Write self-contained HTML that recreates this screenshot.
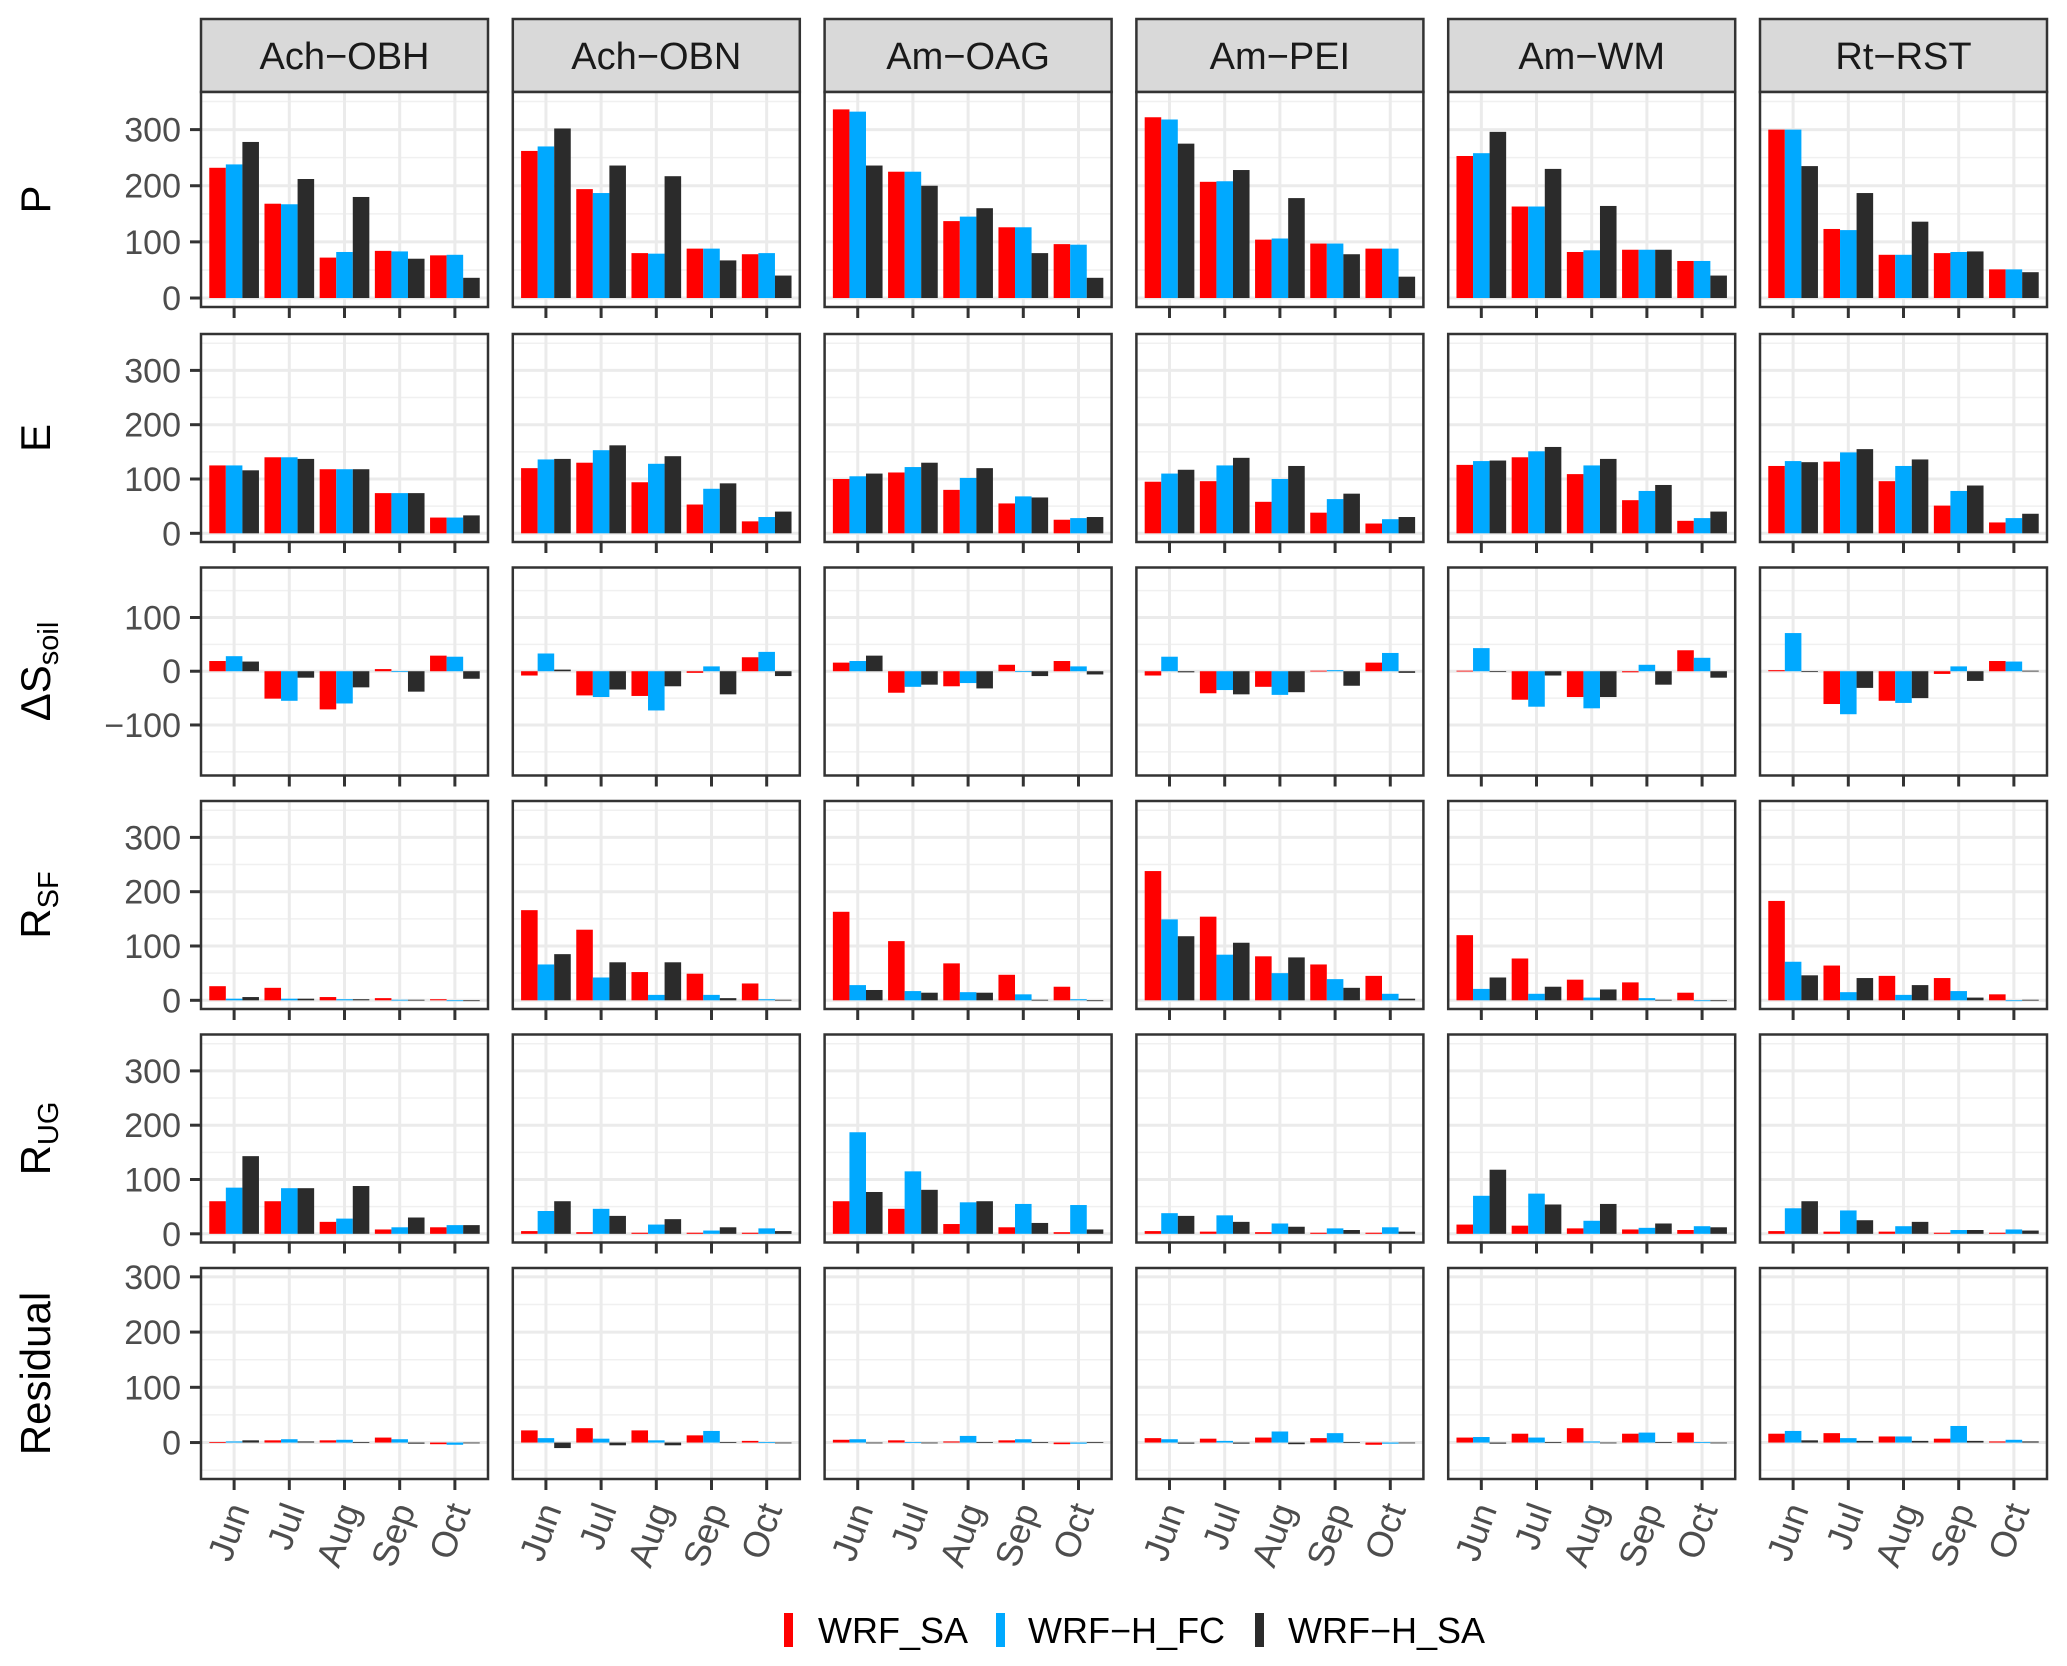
<!DOCTYPE html>
<html><head><meta charset="utf-8"><title>Water balance chart</title>
<style>
html,body{margin:0;padding:0;background:#fff;}
svg{display:block;font-family:"Liberation Sans",Arial,sans-serif;}
</style></head>
<body>
<svg id="chart" width="2067" height="1666" viewBox="0 0 2067 1666" xmlns="http://www.w3.org/2000/svg"></svg>
<script>
const sites = ["Ach\u2212OBH","Ach\u2212OBN","Am\u2212OAG","Am\u2212PEI","Am\u2212WM","Rt\u2212RST"];
const months = ["Jun","Jul","Aug","Sep","Oct"];
const seriesNames = ["WRF_SA","WRF\u2212H_FC","WRF\u2212H_SA"];
const seriesColors = ["#ff0000","#00a9ff","#2b2b2b"];
const varNames = ["P","E","dS","RSF","RUG","Residual"];
const P = [
 [[232,238,278],[168,167,212],[72,82,180],[84,83,70],[76,77,36]],
 [[262,270,302],[194,187,236],[80,79,217],[88,88,67],[78,80,40]],
 [[336,332,236],[225,225,200],[137,145,160],[126,126,80],[96,95,36]],
 [[322,318,275],[207,208,228],[104,106,178],[97,97,78],[88,88,38]],
 [[253,258,296],[163,163,230],[82,85,164],[86,86,86],[66,66,40]],
 [[300,300,235],[123,121,187],[77,77,136],[80,82,83],[51,51,46]]
];
const E = [
 [[125,125,116],[140,140,137],[118,118,118],[74,74,74],[29,29,33]],
 [[120,136,137],[130,153,162],[94,128,142],[53,82,92],[22,30,40]],
 [[100,105,110],[112,122,130],[80,102,120],[55,68,66],[25,28,30]],
 [[95,110,117],[96,125,139],[58,100,124],[38,63,73],[18,26,30]],
 [[126,133,134],[140,151,159],[109,125,137],[61,78,89],[23,28,40]],
 [[124,133,131],[132,149,155],[96,124,136],[51,78,88],[20,28,36]]
];
const dS = [
 [[19,28,18],[-51,-55,-12],[-71,-60,-30],[4,0,-38],[29,27,-14]],
 [[-8,33,3],[-45,-48,-34],[-46,-73,-28],[-3,9,-43],[26,36,-9]],
 [[16,19,29],[-40,-29,-25],[-28,-22,-32],[12,-1,-9],[19,9,-6]],
 [[-8,27,-2],[-41,-35,-43],[-29,-44,-39],[1,2,-27],[16,34,-3]],
 [[1,43,0],[-53,-66,-8],[-48,-69,-48],[-2,12,-25],[39,25,-12]],
 [[2,71,-1],[-61,-80,-31],[-55,-59,-50],[-5,9,-18],[19,18,1]]
];
const RSF = [
 [[26,3,6],[23,3,3],[6,2,2],[4,1,1],[2,0,0]],
 [[166,66,85],[130,42,70],[52,10,70],[49,10,4],[31,2,1]],
 [[163,28,19],[109,17,14],[68,15,14],[47,11,1],[25,2,0]],
 [[238,149,118],[154,84,106],[81,50,79],[66,39,23],[45,12,3]],
 [[120,21,42],[77,12,25],[38,5,20],[33,4,1],[14,0,0]],
 [[183,71,46],[64,15,41],[45,10,28],[41,17,5],[11,0,1]]
];
const RUG = [
 [[60,85,143],[60,84,84],[22,28,88],[8,12,30],[12,16,16]],
 [[5,42,60],[3,46,33],[2,17,27],[2,6,12],[2,10,5]],
 [[60,187,77],[46,115,81],[18,58,60],[12,55,20],[3,53,8]],
 [[5,38,33],[4,34,22],[3,19,13],[2,10,7],[2,12,4]],
 [[17,70,118],[15,74,54],[10,24,55],[8,11,19],[7,14,12]],
 [[5,47,60],[4,43,25],[4,14,22],[2,7,7],[2,8,6]]
];
const Residual = [
 [[1,2,4],[4,6,2],[4,5,1],[9,6,-2],[-3,-4,-1]],
 [[22,8,-10],[26,7,-5],[22,4,-5],[13,21,1],[3,1,0]],
 [[5,6,0],[4,1,0],[2,12,1],[4,6,1],[-3,-2,1]],
 [[8,6,-2],[7,3,-2],[9,20,-3],[8,17,1],[-4,-2,0]],
 [[9,10,-2],[16,9,1],[26,2,-1],[16,18,1],[18,1,0]],
 [[16,21,4],[17,8,3],[11,11,3],[7,30,3],[2,5,2]]
];
const allData = [P,E,dS,RSF,RUG,Residual];
const majorTicks = [[0,100,200,300],[0,100,200,300],[-100,0,100],[0,100,200,300],[0,100,200,300],[0,100,200,300]];
const minorTicks = [[50,150,250,350],[50,150,250,350],[-150,-50,50,150],[50,150,250,350],[50,150,250,350],[-50,50,150,250]];
const yLimits = [[-16,367],[-16,367],[-194,193],[-16,367],[-16,367],[-66,316]];

const NS="http://www.w3.org/2000/svg";
const svg=document.getElementById('chart');
function mk(tag,attrs,parent){const e=document.createElementNS(NS,tag);for(const k in attrs)e.setAttribute(k,attrs[k]);(parent||svg).appendChild(e);return e;}

const colLeft=c=>201+311.8*c, panelW=287;
const rowTop=[92,334,567.5,801,1034.5,1268];
const rowH=[215,208,208,208,208,211];
const step=panelW/5.2;
function xScale(c,i){return colLeft(c)+step*(0.6+i);}
function yScale(r,v){const [lo,hi]=yLimits[r];return rowTop[r]+rowH[r]*(hi-v)/(hi-lo);}

sites.forEach((s,c)=>{
  const g=mk('g',{});
  
  
  mk('rect',{x:colLeft(c),y:19,width:panelW,height:73,fill:'#d9d9d9',stroke:'#333',"stroke-width":2.5},g);
  const t=mk('text',{x:colLeft(c)+panelW/2,y:69,"text-anchor":"middle","font-size":38,fill:'#1a1a1a'},g);
  t.textContent=s;
});

for(let r=0;r<6;r++){
  const cy=rowTop[r]+rowH[r]/2;
  const t=mk('text',{transform:`translate(50,${cy}) rotate(-90)`,"text-anchor":"middle","font-size":42,fill:'#000'});
  
  
  if(r===2){t.innerHTML='\u0394S<tspan font-size="29" dy="8">soil</tspan>';}
  else if(r===3){t.innerHTML='R<tspan font-size="29" dy="8">SF</tspan>';}
  else if(r===4){t.innerHTML='R<tspan font-size="29" dy="8">UG</tspan>';}
  else t.textContent=varNames[r];
}

for(let r=0;r<6;r++){
  for(let c=0;c<6;c++){
    const g=mk('g',{});
    
    
    const x0=colLeft(c), y0=rowTop[r], h=rowH[r];
    mk('rect',{x:x0,y:y0,width:panelW,height:h,fill:'#fff'},g);
    minorTicks[r].forEach(v=>{const y=yScale(r,v);mk('line',{x1:x0,x2:x0+panelW,y1:y,y2:y,stroke:'#f0f0f0',"stroke-width":1.5},g);});
    majorTicks[r].forEach(v=>{const y=yScale(r,v);mk('line',{x1:x0,x2:x0+panelW,y1:y,y2:y,stroke:'#ebebeb',"stroke-width":3},g);});
    months.forEach((m,i)=>{const x=xScale(c,i);mk('line',{x1:x,x2:x,y1:y0,y2:y0+h,stroke:'#ebebeb',"stroke-width":3},g);});
    const d=allData[r][c];
    const bw=step*0.9/3;
    months.forEach((m,i)=>{
      for(let s=0;s<3;s++){
        const v=d[i][s];
        const xb=xScale(c,i)-step*0.45+bw*s;
        const ya=yScale(r,Math.max(v,0)), yb=yScale(r,Math.min(v,0));
        const b=mk('rect',{x:xb,y:ya,width:bw,height:Math.max(yb-ya,0.8),fill:seriesColors[s]},g);
        
        
      }
    });
    mk('rect',{x:x0,y:y0,width:panelW,height:h,fill:'none',stroke:'#333',"stroke-width":2.5},g);
    months.forEach((m,i)=>{const x=xScale(c,i);mk('line',{x1:x,x2:x,y1:y0+h,y2:y0+h+11,stroke:'#333',"stroke-width":3},g);});
    if(c===0){
      majorTicks[r].forEach(v=>{
        const y=yScale(r,v);
        mk('line',{x1:x0-11,x2:x0,y1:y,y2:y,stroke:'#333',"stroke-width":3},g);
        const t=mk('text',{x:x0-20,y:y+12,"text-anchor":"end","font-size":34,fill:'#4d4d4d'},g);
        t.textContent=(v<0?'\u2212'+(-v):String(v));
      });
    }
    if(r===5){
      months.forEach((m,i)=>{
        const x=xScale(c,i)+16, y=y0+h+30;
        const t=mk('text',{transform:`translate(${x},${y}) rotate(-70)`,"text-anchor":"end","font-size":36,fill:'#4d4d4d'},g);
        t.textContent=m;
      });
    }
  }
}

const lg=mk('g',{});


const keyX=[784,996,1255], labX=[818,1028,1288];
seriesNames.forEach((n,s)=>{
  const e=mk('g',{},lg);
  
  
  mk('rect',{x:keyX[s],y:1613,width:9,height:34,fill:seriesColors[s]},e);
  const t=mk('text',{x:labX[s],y:1643,"font-size":36,fill:'#000'},e);
  t.textContent=n;
});
</script>
</body></html>
